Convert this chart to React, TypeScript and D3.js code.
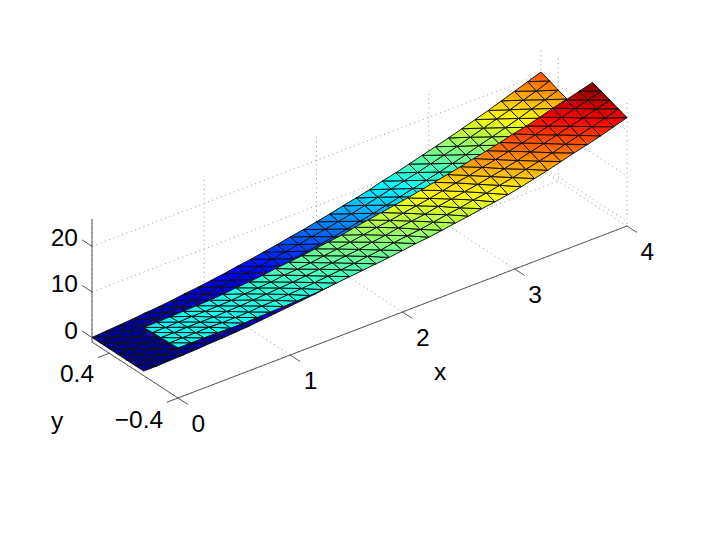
import React from "react";
import * as d3 from "d3";

const xTicks = [0, 1, 2, 3, 4];
const yTicks = [-0.4, 0.4];
const zTicks = [0, 10, 20];

const xNodes = [0,0.118,0.235,0.353,0.471,0.588,0.706,0.824,0.941,1.059,1.176,1.294,1.412,1.529,1.647,1.765,1.882,2,2.118,2.235,2.353,2.471,2.588,2.706,2.824,2.941,3.059,3.176,3.294,3.412,3.529,3.647,3.765,3.882,4];
const yBack = [0, 0.1, 0.2, 0.3, 0.4, 0.5, 0.6];
const yFront = [-0.4, -0.3, -0.2, -0.1, 0];

const zBack = [
[0,0,0,0,0,0,0],
[0,0.1,0.1,0.1,0.1,0.2,0.2],
[0.1,0.1,0.2,0.2,0.3,0.3,0.4],
[0.2,0.3,0.3,0.4,0.5,0.5,0.6],
[0.3,0.4,0.5,0.6,0.7,0.8,0.9],
[0.5,0.6,0.7,0.8,0.9,1.0,1.1],
[0.6,0.7,0.9,1.0,1.2,1.3,1.4],
[0.8,1.0,1.1,1.3,1.5,1.6,1.8],
[1.0,1.2,1.4,1.6,1.8,1.9,2.1],
[1.3,1.5,1.7,1.9,2.1,2.3,2.5],
[1.6,1.8,2.0,2.2,2.5,2.7,2.9],
[1.9,2.1,2.4,2.6,2.9,3.1,3.4],
[2.2,2.4,2.7,3.0,3.3,3.5,3.8],
[2.5,2.8,3.1,3.4,3.7,4.0,4.3],
[2.9,3.2,3.5,3.9,4.2,4.5,4.8],
[3.3,3.7,4.0,4.3,4.7,5.0,5.4],
[3.7,4.1,4.5,4.8,5.2,5.6,5.9],
[4.2,4.6,5.0,5.4,5.7,6.1,6.5],
[4.7,5.1,5.5,5.9,6.3,6.7,7.1],
[5.2,5.6,6.1,6.5,6.9,7.3,7.8],
[5.7,6.2,6.6,7.1,7.5,8.0,8.4],
[6.3,6.8,7.2,7.7,8.2,8.7,9.1],
[6.9,7.4,7.9,8.4,8.9,9.4,9.9],
[7.5,8.0,8.5,9.0,9.6,10.1,10.6],
[8.1,8.7,9.2,9.8,10.3,10.8,11.4],
[8.8,9.4,9.9,10.5,11.0,11.6,12.2],
[9.5,10.1,10.7,11.2,11.8,12.4,13.0],
[10.2,10.8,11.4,12.0,12.6,13.2,13.8],
[11.0,11.6,12.2,12.8,13.5,14.1,14.7],
[11.7,12.4,13.0,13.7,14.3,15.0,15.6],
[12.6,13.2,13.9,14.5,15.2,15.9,16.5],
[13.4,14.1,14.7,15.4,16.1,16.8,17.5],
[14.2,14.9,15.6,16.3,17.1,17.8,18.5],
[15.1,15.8,16.6,17.3,18.0,18.7,19.5],
[16.0,16.8,17.5,18.3,19.0,19.8,20.5],
];

const zFront = [
[10,9.9,9.8,9.7,9.6],
[10,9.9,9.8,9.7,9.6],
[10,9.9,9.9,9.8,9.7],
[10,10,9.9,9.9,9.8],
[9.9,9.9,9.9,9.9,9.9],
[9.9,9.9,10,10,10],
[10,10,10.1,10.1,10.2],
[10.1,10.2,10.3,10.4,10.5],
[10.2,10.3,10.5,10.6,10.7],
[10.3,10.5,10.7,10.8,11],
[10.4,10.7,10.9,11.2,11.4],
[10.6,10.9,11.2,11.4,11.7],
[10.9,11.2,11.5,11.7,12],
[11.2,11.5,11.8,12.1,12.4],
[11.5,11.8,12.2,12.5,12.8],
[11.8,12.2,12.5,12.9,13.2],
[12.1,12.5,13,13.4,13.8],
[12.5,13,13.4,13.9,14.3],
[12.9,13.4,13.9,14.3,14.8],
[13.2,13.7,14.3,14.8,15.3],
[13.6,14.2,14.7,15.3,15.8],
[14.1,14.7,15.3,15.8,16.4],
[14.5,15.1,15.8,16.4,17],
[15,15.7,16.3,17,17.6],
[15.4,16.1,16.8,17.5,18.2],
[15.9,16.7,17.4,18.2,18.9],
[16.5,17.3,18,18.8,19.5],
[17.2,18,18.7,19.5,20.2],
[17.9,18.7,19.5,20.2,21],
[18.7,19.4,20.2,20.9,21.6],
[19.5,20.2,21,21.7,22.4],
[20.2,21,21.8,22.5,23.3],
[21,21.8,22.5,23.3,24],
[21.9,22.6,23.4,24.1,24.8],
[22.8,23.5,24.2,24.9,25.6],
];

const xLim = [0, 4];
const yLim = [-0.4, 0.6];
const zLim = [-1, 26];
const colorLim = [0, 25.6];
const jetKnots = [0, 0.125, 0.375, 0.625, 0.875, 1];
const jetColors = ["#000090", "#0000ff", "#00ffff", "#ffff00", "#ff0000", "#800000"];

const xPx = d3.scaleLinear().domain(xLim).range([178, 627]);
const xPy = d3.scaleLinear().domain(xLim).range([398, 226]);
const yPx = d3.scaleLinear().domain(yLim).range([0, -86]);
const yPy = d3.scaleLinear().domain(yLim).range([0, -56]);
const zPy = d3.scaleLinear().domain(zLim).range([0, -123]);
const colorT = d3.scaleLinear().domain(colorLim).range([0, 1]).clamp(true);
const jet = d3.scaleLinear<string>().domain(jetKnots).range(jetColors).interpolate(d3.interpolateRgb);

type P = [number, number];
const proj = (x: number, y: number, z: number): P => [xPx(x) + yPx(y), xPy(x) + yPy(y) + zPy(z)];
const line = (a: P, b: P) => `M${a[0]},${a[1]}L${b[0]},${b[1]}`;

type Tri = { pts: P[]; v: number[]; id: string };

function triangles(prefix: string, ys: number[], zs: number[][]): Tri[] {
  const out: Tri[] = [];
  for (let i = 0; i < xNodes.length - 1; i++) {
    for (let j = 0; j < ys.length - 1; j++) {
      const nodes: [number, number][][] = [
        [[i, j], [i + 1, j], [i, j + 1]],
        [[i + 1, j], [i + 1, j + 1], [i, j + 1]],
      ];
      nodes.forEach((tri, k) => {
        out.push({
          id: `${prefix}-${i}-${j}-${k}`,
          pts: tri.map(([a, b]) => proj(xNodes[a], ys[b], zs[a][b])),
          v: tri.map(([a, b]) => colorT(zs[a][b])),
        });
      });
    }
  }
  return out;
}

function Gradient({ t }: { t: Tri }) {
  const [p0, p1, p2] = t.pts;
  const [v0, v1, v2] = t.v;
  const det = (p1[0] - p0[0]) * (p2[1] - p0[1]) - (p2[0] - p0[0]) * (p1[1] - p0[1]);
  const gx = ((v1 - v0) * (p2[1] - p0[1]) - (v2 - v0) * (p1[1] - p0[1])) / det;
  const gy = ((v2 - v0) * (p1[0] - p0[0]) - (v1 - v0) * (p2[0] - p0[0])) / det;
  const g2 = gx * gx + gy * gy;
  const vMin = Math.min(v0, v1, v2);
  const vMax = Math.max(v0, v1, v2);
  if (!(g2 > 0) || vMax - vMin < 1e-6) return null;
  const a = t.pts[t.v.indexOf(vMin)];
  const span = (vMax - vMin) / g2;
  const offs = [vMin, ...jetKnots.filter((k) => k > vMin && k < vMax), vMax];
  return (
    <linearGradient id={t.id} gradientUnits="userSpaceOnUse" x1={a[0]} y1={a[1]} x2={a[0] + gx * span} y2={a[1] + gy * span}>
      {offs.map((o, i) => (
        <stop key={i} offset={(o - vMin) / (vMax - vMin)} stopColor={jet(o)} />
      ))}
    </linearGradient>
  );
}

const fontFamily = "'Liberation Sans', Arial, sans-serif";
const axisStroke = "#444";
const gridProps = { stroke: "#999", strokeWidth: 1, strokeDasharray: "1 3.6", fill: "none" };

const [x0, x1] = xLim;
const [y0, y1] = yLim;
const [z0, z1] = zLim;

const xTickLabelPos = (v: number): P => { const p = proj(v, y0, z0); return [p[0] + 20.2, p[1] + 33.5]; };
const zTickLabelY = (v: number) => zPy(v) + (v === 0 ? 344 : 342);

export default function App() {
  const back = triangles("b", yBack, zBack);
  const front = triangles("f", yFront, zFront);
  const all = [...back, ...front];
  return (
    <svg width={706} height={555} viewBox="0 0 706 555" style={{ position: "absolute", left: 0, top: 0, display: "block", background: "#fff" }}>
      <defs>{all.map((t) => <Gradient key={t.id} t={t} />)}</defs>

      <g {...gridProps}>
        {xTicks.map((v) => (
          <path key={`gx${v}`} d={`M${proj(v, y0, z0).join(",")}L${proj(v, y1, z0).join(",")}L${proj(v, y1, z1).join(",")}`} />
        ))}
        {yTicks.map((v) => (
          <path key={`gy${v}`} d={`M${proj(x0, v, z0).join(",")}L${proj(x1, v, z0).join(",")}L${proj(x1, v, z1).join(",")}`} />
        ))}
        {zTicks.map((v) => (
          <path key={`gz${v}`} d={`M${proj(x0, y1, v).join(",")}L${proj(x1, y1, v).join(",")}L${proj(x1, y0, v).join(",")}`} />
        ))}
      </g>

      <g stroke={axisStroke} strokeWidth={0.9} fill="none">
        <path d={line(proj(x0, y0, z0), proj(x1, y0, z0))} />
        <path d={line(proj(x0, y0, z0), proj(x0, y1, z0))} />
        <path d={line(proj(x0, y1, z0), proj(x0, y1, z1))} />
        {xTicks.map((v) => (
          <path key={`tx${v}`} d={line(proj(v, y0, z0), proj(v, y0 - 0.115, z0))} />
        ))}
        {yTicks.map((v) => (
          <path key={`ty${v}`} d={line(proj(x0, v, z0), proj(x0 - 0.1, v, z0))} />
        ))}
        {zTicks.map((v) => (
          <path key={`tz${v}`} d={line(proj(x0, y1, v), proj(x0, y1 + 0.115, v))} />
        ))}
      </g>

      {all.map((t) => (
        <polygon
          key={t.id}
          points={t.pts.map((p) => p.join(",")).join(" ")}
          fill={Math.max(...t.v) - Math.min(...t.v) < 1e-6 ? jet(t.v[0]) : `url(#${t.id})`}
          stroke="#111"
          strokeWidth={1}
          strokeLinejoin="round"
        />
      ))}

      <g fontFamily={fontFamily} fontSize={24.5} fill="#000" textAnchor="middle">
        {xTicks.map((v) => {
          const [lx, ly] = xTickLabelPos(v);
          return <text key={`lx${v}`} x={lx} y={ly}>{v}</text>;
        })}
        <text x={440} y={380}>x</text>
        <text x={77} y={382}>0.4</text>
        <text x={139} y={428}>{"\u22120.4"}</text>
        <text x={57} y={429}>y</text>
        {zTicks.map((v) => (
          <text key={`lz${v}`} x={78} y={zTickLabelY(v)} textAnchor="end">{v}</text>
        ))}
      </g>
    </svg>
  );
}
